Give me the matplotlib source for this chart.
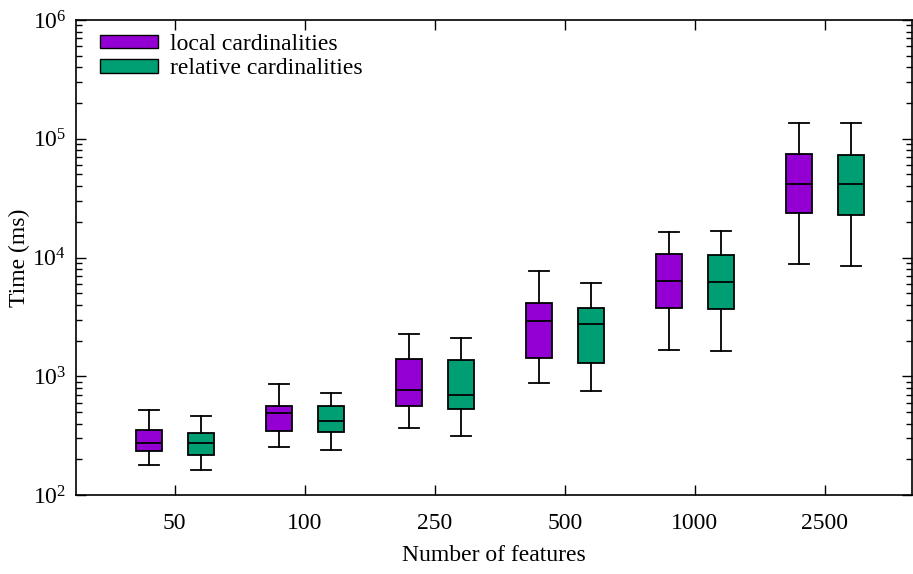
import matplotlib
matplotlib.use("Agg")
import matplotlib.pyplot as plt
from matplotlib.patches import Patch
from matplotlib.ticker import LogLocator, NullFormatter

plt.rcParams['font.family'] = ['Liberation Serif', 'DejaVu Serif']
plt.rcParams['mathtext.fontset'] = 'custom'
plt.rcParams['mathtext.rm'] = 'Liberation Serif'
plt.rcParams['mathtext.it'] = 'Liberation Serif:italic'

features = ['50', '100', '250', '500', '1000', '2500']

# box stats: whisker low, q1, median, q3, whisker high (ms)
local_lo = [178, 253, 366, 877, 1675, 8810]
local_q1 = [233, 348, 565, 1416, 3730, 23550]
local_med = [276, 488, 771, 2900, 6310, 41560]
local_q3 = [351, 565, 1396, 4160, 10640, 74800]
local_hi = [520, 861, 2270, 7740, 16400, 136500]

rel_lo = [161, 241, 314, 755, 1634, 8470]
rel_q1 = [218, 337, 527, 1285, 3660, 22900]
rel_med = [272, 418, 700, 2737, 6220, 41560]
rel_q3 = [333, 561, 1362, 3760, 10570, 72600]
rel_hi = [466, 722, 2090, 6070, 16830, 136500]

purple = '#9400D3'
green = '#009E73'


def make_stats(lo, q1, med, q3, hi):
    return [dict(whislo=a, q1=b, med=c, q3=d, whishi=e, fliers=[])
            for a, b, c, d, e in zip(lo, q1, med, q3, hi)]


fig = plt.figure(figsize=(9.13, 5.74), dpi=100)
ax = fig.add_axes([76 / 913, 79 / 574, 836 / 913, 475 / 574])

groups = [
    (make_stats(local_lo, local_q1, local_med, local_q3, local_hi), -0.2, purple),
    (make_stats(rel_lo, rel_q1, rel_med, rel_q3, rel_hi), 0.2, green),
]
for stats, off, col in groups:
    pos = [i + off for i in range(len(features))]
    ax.bxp(stats, positions=pos, widths=0.2, capwidths=0.15, patch_artist=True,
           showfliers=False, manage_ticks=False,
           boxprops=dict(facecolor=col, edgecolor='black', linewidth=1.3),
           medianprops=dict(color='black', linewidth=1.3),
           whiskerprops=dict(color='black', linewidth=1.3),
           capprops=dict(color='black', linewidth=1.3))

ax.set_yscale('log')
ax.set_ylim(1e2, 1e6)
ax.set_xlim(-0.76, 5.67)
ax.set_xticks(range(len(features)))
ax.set_xticklabels(features)
ax.yaxis.set_major_locator(LogLocator(base=10, numticks=10))
ax.yaxis.set_minor_locator(LogLocator(base=10, subs=range(2, 10), numticks=10))
ax.yaxis.set_minor_formatter(NullFormatter())

ax.tick_params(which='both', direction='in', top=True, right=True, labelsize=17,
               width=1)
ax.tick_params(which='major', length=7)
ax.tick_params(which='minor', length=4)
ax.tick_params(axis='x', which='minor', top=False, bottom=False)
ax.tick_params(axis='x', pad=13)
ax.tick_params(axis='y', pad=7)
for s in ax.spines.values():
    s.set_linewidth(1.2)

ax.set_xlabel('Number of features', fontsize=17, va='top')
ax.set_ylabel('Time (ms)', fontsize=17)
ax.xaxis.set_label_coords(0.5, -0.105)
ax.yaxis.set_label_coords(-0.055, 0.5)

handles = [Patch(facecolor=purple, edgecolor='black', label='local cardinalities'),
           Patch(facecolor=green, edgecolor='black', label='relative cardinalities')]
ax.legend(handles=handles, loc='upper left', frameon=False, fontsize=17,
          handlelength=2.45, handleheight=0.5, handletextpad=0.5,
          labelspacing=0.15, borderpad=0, borderaxespad=0,
          bbox_to_anchor=(0.0287, 0.971))

fig.savefig('out.png', dpi=100)
